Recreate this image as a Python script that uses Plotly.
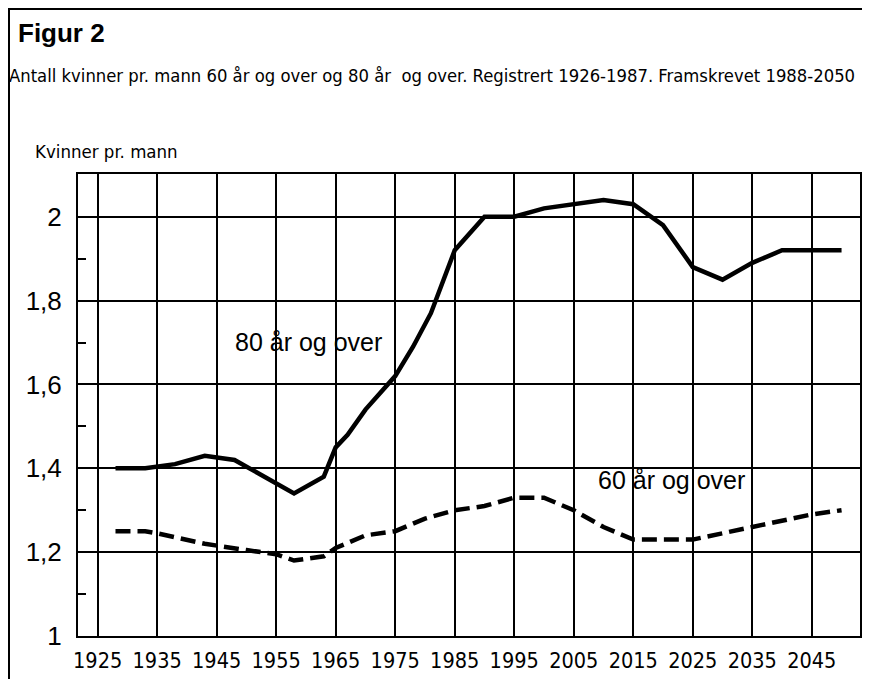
import plotly.graph_objects as go

# 80 år og over (solid)
years_80 = [1928, 1933, 1938, 1943, 1948, 1958, 1963, 1965, 1967, 1970, 1975, 1978, 1981,
            1985, 1990, 1995, 2000, 2005, 2010, 2015, 2020, 2025, 2030, 2035, 2040, 2050]
ratio_80 = [1.40, 1.40, 1.41, 1.43, 1.42, 1.34, 1.38, 1.45, 1.48, 1.54, 1.62, 1.69, 1.77,
            1.92, 2.00, 2.00, 2.02, 2.03, 2.04, 2.03, 1.98, 1.88, 1.85, 1.89, 1.92, 1.92]

# 60 år og over (dashed)
years_60 = [1928, 1933, 1935, 1943, 1950, 1955, 1958, 1963, 1965, 1970, 1975, 1980,
            1985, 1990, 1995, 2000, 2005, 2010, 2015, 2025, 2035, 2045, 2050]
ratio_60 = [1.25, 1.25, 1.245, 1.22, 1.205, 1.195, 1.18, 1.19, 1.21, 1.24, 1.25, 1.28,
            1.30, 1.31, 1.33, 1.33, 1.30, 1.26, 1.23, 1.23, 1.26, 1.29, 1.30]

x_ticks = [1925, 1935, 1945, 1955, 1965, 1975, 1985, 1995, 2005, 2015, 2025, 2035, 2045]
y_ticks = [1, 1.2, 1.4, 1.6, 1.8, 2]
y_ticklabels = ["1", "1,2", "1,4", "1,6", "1,8", "2"]

title_text = "Figur 2"
subtitle_text = "Antall kvinner pr. mann 60 år og over og 80 år  og over. Registrert 1926-1987. Framskrevet 1988-2050"
ylabel_text = "Kvinner pr. mann"
label_80 = "80 år og over"
label_60 = "60 år og over"

NARROW = "Liberation Sans Narrow, Arial Narrow, DejaVu Sans Condensed, sans-serif"
REG = "Liberation Sans, Arial, sans-serif"

# page offset of the figure (browser body margin)
OFF = 8
SCREEN_W, SCREEN_H = 870, 679
W, H = SCREEN_W - OFF, SCREEN_H - OFF
# plot area in screen pixels
PX0, PX1, PY0, PY1 = 78, 860, 174, 636
L, R = PX0 - OFF, W - (PX1 - OFF)
T, B = PY0 - OFF, H - (PY1 - OFF)
pw, ph = PX1 - PX0, PY1 - PY0

def px(x):
    return (x - PX0) / pw

def py(y):
    return (PY1 - y) / ph

fig = go.Figure()
fig.add_trace(go.Scatter(x=years_80, y=ratio_80, mode="lines",
                         line=dict(color="black", width=4.5), showlegend=False))
fig.add_trace(go.Scatter(x=years_60, y=ratio_60, mode="lines",
                         line=dict(color="black", width=4.5, dash="15px,7px"), showlegend=False))

fig.update_layout(
    width=W, height=H,
    margin=dict(l=L, r=R, t=T, b=B),
    paper_bgcolor="white", plot_bgcolor="white",
    showlegend=False,
    xaxis=dict(range=[1921.7, 2053.1], tickvals=x_ticks, ticktext=[str(v) for v in x_ticks],
               automargin=False,
               showgrid=True, gridcolor="black", gridwidth=1.5,
               showline=True, linecolor="black", linewidth=2, mirror=True,
               ticks="", ticklabelstandoff=4, zeroline=False,
               tickfont=dict(family=NARROW, size=21.5, color="black")),
    yaxis=dict(range=[1, 2.102], tickvals=y_ticks, ticktext=y_ticklabels,
               automargin=False,
               showgrid=True, gridcolor="black", gridwidth=1.5,
               showline=True, linecolor="black", linewidth=2, mirror=True,
               ticks="", ticklabelstandoff=9, zeroline=False,
               tickfont=dict(family=REG, size=26, color="black"),
               minor=dict(tickvals=[1.1, 1.3, 1.5, 1.7, 1.9], ticks="inside", ticklen=8,
                          tickwidth=2, tickcolor="black", showgrid=False)),
)

annos = [
    dict(text="<b>" + title_text + "</b>", x=px(16), y=py(33), xanchor="left", yanchor="middle",
         font=dict(family=REG, size=26, color="black")),
    dict(text=subtitle_text, x=px(7), y=py(75), xanchor="left", yanchor="middle",
         font=dict(family=NARROW, size=18.3, color="black")),
    dict(text=ylabel_text, x=px(33), y=py(152), xanchor="left", yanchor="middle",
         font=dict(family=NARROW, size=18.5, color="black")),
]
for a in annos:
    a.update(xref="paper", yref="paper", showarrow=False)
    fig.add_annotation(**a)

fig.add_annotation(text=label_80, x=1960.4, y=1.701, xref="x", yref="y", showarrow=False,
                   font=dict(family=REG, size=25, color="black"))
fig.add_annotation(text=label_60, x=2021.4, y=1.372, xref="x", yref="y", showarrow=False,
                   font=dict(family=REG, size=25, color="black"))

# outer frame (left and top borders)
fig.add_shape(type="line", xref="paper", yref="paper", x0=px(9), x1=px(9), y0=py(8), y1=py(SCREEN_H + 5),
              line=dict(color="black", width=2))
fig.add_shape(type="line", xref="paper", yref="paper", x0=px(8), x1=px(SCREEN_W + 5), y0=py(9), y1=py(9),
              line=dict(color="black", width=2))

fig.write_html("out.html")
